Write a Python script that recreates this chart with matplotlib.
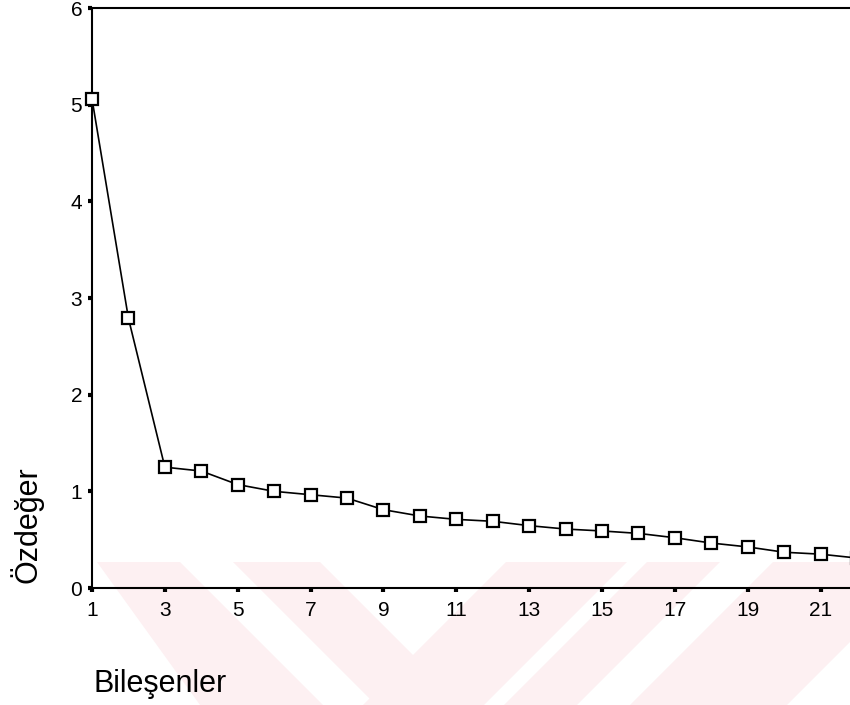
import matplotlib
matplotlib.use('Agg')
import matplotlib.pyplot as plt
from matplotlib.patches import Polygon

# scree plot values
components = list(range(1, 23))
eigenvalues = [5.06, 2.79, 1.25, 1.21, 1.07, 1.00, 0.965, 0.93, 0.81, 0.745, 0.71,
               0.69, 0.645, 0.61, 0.59, 0.565, 0.52, 0.465, 0.425, 0.37, 0.35, 0.31]
x_ticks = list(range(1, 22, 2))
y_ticks = list(range(0, 7))

plt.rcParams['font.family'] = ['Liberation Sans', 'DejaVu Sans']

W, H = 850, 705
fig = plt.figure(figsize=(W / 100, H / 100), dpi=100)

# faint pink watermark behind the chart (pixel coords, y from top)
def px(pts):
  return [(x / W, 1 - y / H) for x, y in pts]

stripes = [
  [(97, 562), (180, 562), (323, 705), (200, 705)],
  [(233, 562), (320, 562), (463, 705), (376, 705)],
  [(506, 562), (627, 562), (484, 705), (363, 705)],
  [(647, 562), (720, 562), (577, 705), (504, 705)],
  [(773, 562), (930, 562), (787, 705), (630, 705)],
]
for s in stripes:
  fig.patches.append(Polygon(px(s), closed=True, transform=fig.transFigure,
                             facecolor='#fdf0f2', edgecolor='none', zorder=-1))

# axes: x=1 at px 92, x=22 at px 857 (right edge falls off the image)
ax = fig.add_axes([92 / W, 117 / H, (857 - 92) / W, 580 / H])
ax.set_zorder(2)
ax.patch.set_visible(False)

ax.plot(components, eigenvalues, color='black', linewidth=1.2,
        marker='s', markersize=8.5, markerfacecolor='white',
        markeredgecolor='black', markeredgewidth=1.6, clip_on=False, zorder=3)

ax.set_xlim(1, 22)
ax.set_ylim(0, 6)
ax.set_xticks(x_ticks)
ax.set_yticks(y_ticks)
ax.tick_params(axis='both', direction='out', length=3, width=3, labelsize=15)
ax.tick_params(axis='x', pad=6)
ax.tick_params(axis='y', pad=4)

for sp in ax.spines.values():
  sp.set_linewidth(1.5)
ax.spines['right'].set_visible(False)

fig.text(27 / W, 1 - 525 / H, 'Özdeğer', rotation=90, ha='center', va='center', fontsize=22)
fig.text(93 / W, 1 - 692 / H, 'Bileşenler', ha='left', va='baseline', fontsize=22)

fig.savefig('out.png', dpi=100)
